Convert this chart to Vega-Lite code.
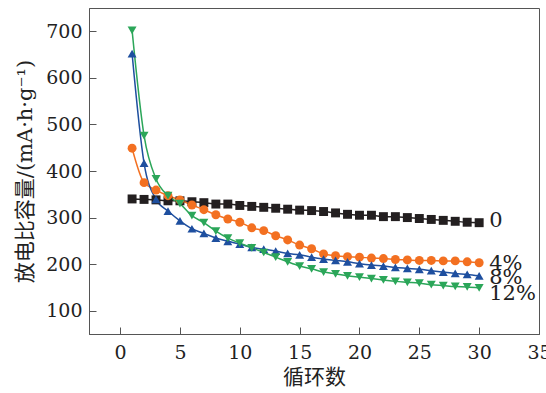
{
  "$schema": "https://vega.github.io/schema/vega-lite/v6.json",
  "width": 450,
  "height": 326,
  "autosize": {"type": "none"},
  "padding": {"left": 89, "top": 8, "right": 7, "bottom": 59},
  "background": "white",
  "config": {
    "view": {"stroke": "#555", "strokeWidth": 1},
    "font": "DejaVu Serif",
    "axis": {
      "grid": false,
      "domainColor": "#555",
      "tickColor": "#555",
      "labelColor": "#222",
      "titleColor": "#222",
      "labelFont": "DejaVu Serif",
      "labelFontSize": 19,
      "titleFont": "DejaVu Serif, Noto Sans CJK SC",
      "titleFontSize": 21,
      "titleFontWeight": "normal"
    }
  },
  "datasets": {
    "cap": [
      {"cycle":1,"series":"0","capacity":340},{"cycle":2,"series":"0","capacity":339},{"cycle":3,"series":"0","capacity":338},{"cycle":4,"series":"0","capacity":336},{"cycle":5,"series":"0","capacity":336},{"cycle":6,"series":"0","capacity":334},{"cycle":7,"series":"0","capacity":332},{"cycle":8,"series":"0","capacity":329},{"cycle":9,"series":"0","capacity":329},{"cycle":10,"series":"0","capacity":326},{"cycle":11,"series":"0","capacity":324},{"cycle":12,"series":"0","capacity":322},{"cycle":13,"series":"0","capacity":320},{"cycle":14,"series":"0","capacity":318},{"cycle":15,"series":"0","capacity":316},{"cycle":16,"series":"0","capacity":315},{"cycle":17,"series":"0","capacity":313},{"cycle":18,"series":"0","capacity":310},{"cycle":19,"series":"0","capacity":307},{"cycle":20,"series":"0","capacity":305},{"cycle":21,"series":"0","capacity":305},{"cycle":22,"series":"0","capacity":302},{"cycle":23,"series":"0","capacity":302},{"cycle":24,"series":"0","capacity":300},{"cycle":25,"series":"0","capacity":298},{"cycle":26,"series":"0","capacity":296},{"cycle":27,"series":"0","capacity":294},{"cycle":28,"series":"0","capacity":292},{"cycle":29,"series":"0","capacity":290},{"cycle":30,"series":"0","capacity":289},
      {"cycle":1,"series":"4%","capacity":449},{"cycle":2,"series":"4%","capacity":375},{"cycle":3,"series":"4%","capacity":359},{"cycle":4,"series":"4%","capacity":347},{"cycle":5,"series":"4%","capacity":338},{"cycle":6,"series":"4%","capacity":327},{"cycle":7,"series":"4%","capacity":317},{"cycle":8,"series":"4%","capacity":306},{"cycle":9,"series":"4%","capacity":297},{"cycle":10,"series":"4%","capacity":290},{"cycle":11,"series":"4%","capacity":278},{"cycle":12,"series":"4%","capacity":272},{"cycle":13,"series":"4%","capacity":261},{"cycle":14,"series":"4%","capacity":252},{"cycle":15,"series":"4%","capacity":241},{"cycle":16,"series":"4%","capacity":233},{"cycle":17,"series":"4%","capacity":222},{"cycle":18,"series":"4%","capacity":218},{"cycle":19,"series":"4%","capacity":216},{"cycle":20,"series":"4%","capacity":215},{"cycle":21,"series":"4%","capacity":213},{"cycle":22,"series":"4%","capacity":212},{"cycle":23,"series":"4%","capacity":210},{"cycle":24,"series":"4%","capacity":209},{"cycle":25,"series":"4%","capacity":208},{"cycle":26,"series":"4%","capacity":208},{"cycle":27,"series":"4%","capacity":207},{"cycle":28,"series":"4%","capacity":207},{"cycle":29,"series":"4%","capacity":205},{"cycle":30,"series":"4%","capacity":203},
      {"cycle":1,"series":"8%","capacity":652},{"cycle":2,"series":"8%","capacity":417},{"cycle":3,"series":"8%","capacity":339},{"cycle":4,"series":"8%","capacity":314},{"cycle":5,"series":"8%","capacity":293},{"cycle":6,"series":"8%","capacity":276},{"cycle":7,"series":"8%","capacity":266},{"cycle":8,"series":"8%","capacity":256},{"cycle":9,"series":"8%","capacity":249},{"cycle":10,"series":"8%","capacity":243},{"cycle":11,"series":"8%","capacity":236},{"cycle":12,"series":"8%","capacity":232},{"cycle":13,"series":"8%","capacity":228},{"cycle":14,"series":"8%","capacity":223},{"cycle":15,"series":"8%","capacity":220},{"cycle":16,"series":"8%","capacity":215},{"cycle":17,"series":"8%","capacity":211},{"cycle":18,"series":"8%","capacity":208},{"cycle":19,"series":"8%","capacity":205},{"cycle":20,"series":"8%","capacity":201},{"cycle":21,"series":"8%","capacity":198},{"cycle":22,"series":"8%","capacity":196},{"cycle":23,"series":"8%","capacity":193},{"cycle":24,"series":"8%","capacity":191},{"cycle":25,"series":"8%","capacity":189},{"cycle":26,"series":"8%","capacity":186},{"cycle":27,"series":"8%","capacity":183},{"cycle":28,"series":"8%","capacity":180},{"cycle":29,"series":"8%","capacity":178},{"cycle":30,"series":"8%","capacity":175},
      {"cycle":1,"series":"12%","capacity":702},{"cycle":2,"series":"12%","capacity":476},{"cycle":3,"series":"12%","capacity":383},{"cycle":4,"series":"12%","capacity":347},{"cycle":5,"series":"12%","capacity":330},{"cycle":6,"series":"12%","capacity":304},{"cycle":7,"series":"12%","capacity":289},{"cycle":8,"series":"12%","capacity":271},{"cycle":9,"series":"12%","capacity":256},{"cycle":10,"series":"12%","capacity":245},{"cycle":11,"series":"12%","capacity":235},{"cycle":12,"series":"12%","capacity":225},{"cycle":13,"series":"12%","capacity":215},{"cycle":14,"series":"12%","capacity":205},{"cycle":15,"series":"12%","capacity":196},{"cycle":16,"series":"12%","capacity":190},{"cycle":17,"series":"12%","capacity":183},{"cycle":18,"series":"12%","capacity":179},{"cycle":19,"series":"12%","capacity":175},{"cycle":20,"series":"12%","capacity":172},{"cycle":21,"series":"12%","capacity":169},{"cycle":22,"series":"12%","capacity":166},{"cycle":23,"series":"12%","capacity":163},{"cycle":24,"series":"12%","capacity":161},{"cycle":25,"series":"12%","capacity":159},{"cycle":26,"series":"12%","capacity":156},{"cycle":27,"series":"12%","capacity":154},{"cycle":28,"series":"12%","capacity":152},{"cycle":29,"series":"12%","capacity":151},{"cycle":30,"series":"12%","capacity":149}
    ]
  },
  "data": {"name": "cap"},
  "encoding": {
    "x": {
      "field": "cycle", "type": "quantitative",
      "scale": {"domain": [-2.6, 35], "nice": false, "zero": false},
      "axis": {"values": [0,5,10,15,20,25,30,35], "tickSize": -7, "labelPadding": 16, "title": "循环数", "titlePadding": 4, "labelFlush": false}
    },
    "y": {
      "field": "capacity", "type": "quantitative",
      "scale": {"domain": [50, 750], "nice": false, "zero": false},
      "axis": {"values": [100,200,300,400,500,600,700], "tickSize": -7, "labelPadding": 14, "title": "放电比容量/(mA·h·g⁻¹)", "titlePadding": 10, "labelFlush": false}
    },
    "color": {
      "field": "series", "type": "nominal",
      "scale": {"domain": ["0","4%","8%","12%"], "range": ["#231f20","#f37021","#1e4f9f","#2ba659"]},
      "legend": null
    }
  },
  "layer": [
    {
      "mark": {"type": "line", "interpolate": "monotone", "strokeWidth": 1.5},
      "encoding": {"detail": {"field": "series"}}
    },
    {
      "mark": {"type": "point", "filled": true, "opacity": 1},
      "encoding": {
        "shape": {"field": "series", "type": "nominal", "scale": {"domain": ["0","4%","8%","12%"], "range": ["square","circle","triangle-up","triangle-down"]}, "legend": null},
        "size": {"value": 80}
      }
    },
    {
      "transform": [{"filter": "datum.cycle == 30 && datum.series == '0'"}],
      "mark": {"type": "text", "align": "left", "baseline": "middle", "dx": 10, "dy": -2, "fontSize": 21, "font": "DejaVu Serif"},
      "encoding": {"text": {"field": "series"}, "color": {"value": "#222"}}
    },
    {
      "transform": [{"filter": "datum.cycle == 30 && datum.series == '4%'"}],
      "mark": {"type": "text", "align": "left", "baseline": "middle", "dx": 10, "dy": 1.5, "fontSize": 21, "font": "DejaVu Serif"},
      "encoding": {"text": {"field": "series"}, "color": {"value": "#222"}}
    },
    {
      "transform": [{"filter": "datum.cycle == 30 && datum.series == '8%'"}],
      "mark": {"type": "text", "align": "left", "baseline": "middle", "dx": 10, "dy": 2, "fontSize": 21, "font": "DejaVu Serif"},
      "encoding": {"text": {"field": "series"}, "color": {"value": "#222"}}
    },
    {
      "transform": [{"filter": "datum.cycle == 30 && datum.series == '12%'"}],
      "mark": {"type": "text", "align": "left", "baseline": "middle", "dx": 10, "dy": 6, "fontSize": 21, "font": "DejaVu Serif"},
      "encoding": {"text": {"field": "series"}, "color": {"value": "#222"}}
    }
  ]
}
